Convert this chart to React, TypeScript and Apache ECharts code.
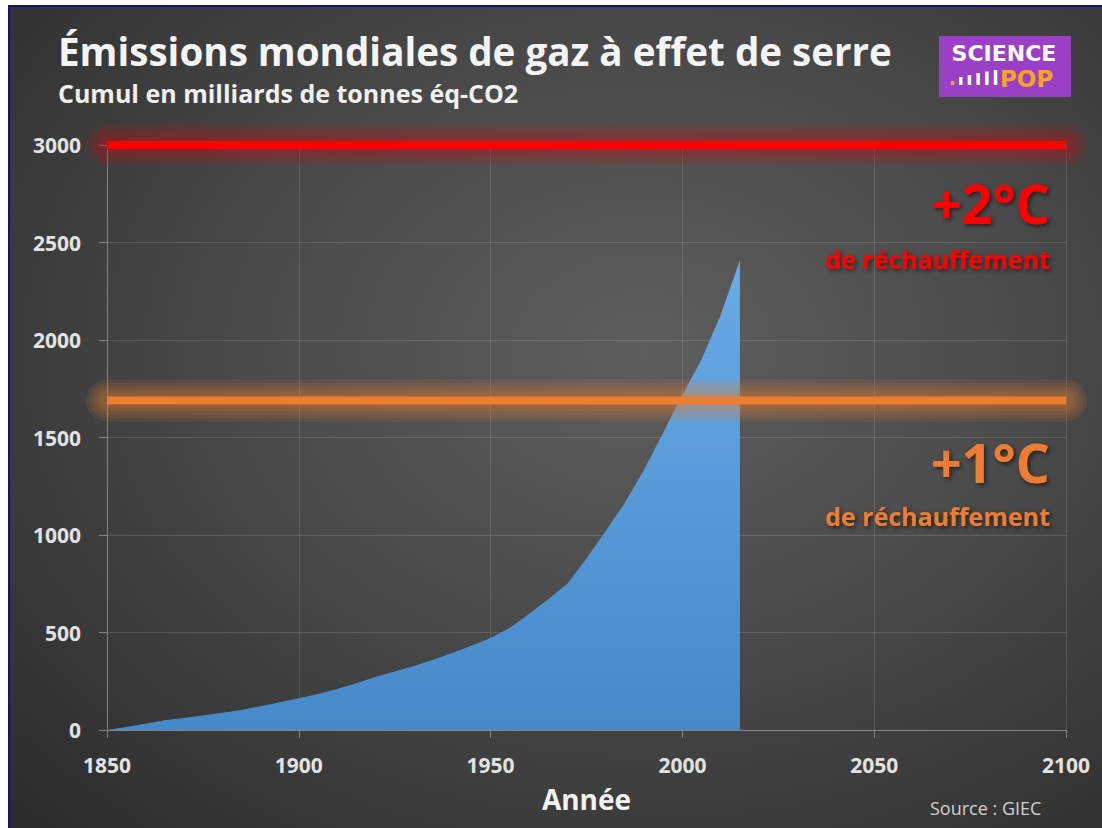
import React, { useEffect, useRef } from "react";
import * as echarts from "echarts";

const years = [1850, 1855, 1860, 1865, 1870, 1875, 1880, 1885, 1890, 1895, 1900, 1905, 1910, 1915, 1920, 1925, 1930, 1935, 1940, 1945, 1950, 1955, 1960, 1965, 1970, 1975, 1980, 1985, 1990, 1995, 2000, 2005, 2010, 2015];
const cumulativeEmissions = [0, 15, 32, 50, 62, 75, 88, 103, 122, 142, 163, 185, 210, 240, 272, 300, 328, 360, 395, 432, 472, 525, 595, 670, 750, 880, 1020, 1165, 1335, 1525, 1720, 1900, 2130, 2410];
const xRange = [1850, 2100];
const warmingLevels = [3000, 1690];
const warmingLabels = ["+2°C", "+1°C"];
const warmingSubLabel = "de réchauffement";
const warmingColors = ["#ff0000", "#ed7d31"];
const warmingGlowRgb = ["200,20,20", "237,125,49"];

const FONT = "'Open Sans', 'DejaVu Sans', sans-serif";
const LOGO_FONT = "'DejaVu Sans', sans-serif";

export default function App() {
  const ref = useRef<HTMLDivElement>(null);
  useEffect(() => {
    const chart = echarts.init(ref.current!, null, { renderer: "svg" });
    const shadow = {
      textShadowColor: "rgba(0,0,0,0.55)",
      textShadowBlur: 4,
      textShadowOffsetX: 2,
      textShadowOffsetY: 2,
    };
    const annotationY = [
      [203, 259],
      [462, 516],
    ];
    const annotations: any[] = [];
    warmingLabels.forEach((lab, i) => {
      annotations.push({
        type: "text",
        x: 1050,
        y: annotationY[i][0],
        style: {
          text: lab,
          fill: warmingColors[i],
          font: `bold 54px ${FONT}`,
          align: "right",
          verticalAlign: "middle",
          ...shadow,
        },
      });
      annotations.push({
        type: "text",
        x: 1050,
        y: annotationY[i][1],
        style: {
          text: warmingSubLabel,
          fill: warmingColors[i],
          font: `bold 25px ${FONT}`,
          align: "right",
          verticalAlign: "middle",
          ...shadow,
        },
      });
    });
    const barTops = [77, 75, 73, 71.5, 70];
    const logoBars = barTops.map((t, i) => ({
      type: "rect",
      shape: { x: 959 + i * 8.7, y: t, width: 3.5, height: 85 - t },
      style: { fill: "#ffffff" },
    }));

    const glowWidths = [42, 35, 28, 21, 15];
    const thresholdSeries: any[] = [];
    warmingLevels.forEach((v, i) => {
      glowWidths.forEach((w) => {
        thresholdSeries.push({
          type: "line",
          data: xRange.map((x) => [x, v]),
          symbol: "none",
          silent: true,
          clip: false,
          z: 4,
          lineStyle: {
            color: `rgba(${warmingGlowRgb[i]},0.11)`,
            width: w,
            cap: "round",
          },
        });
      });
      thresholdSeries.push({
        type: "line",
        data: xRange.map((x) => [x, v]),
        symbol: "none",
        silent: true,
        clip: false,
        z: 5,
        lineStyle: { color: warmingColors[i], width: 8, cap: "butt" },
      });
    });

    chart.setOption({
      animation: false,
      backgroundColor: "transparent",
      grid: { left: 107, right: 36, top: 145, bottom: 98, containLabel: false },
      xAxis: {
        type: "value",
        min: xRange[0],
        max: xRange[1],
        interval: 50,
        axisLine: { show: true, lineStyle: { color: "#858585", width: 1 } },
        axisTick: { show: true, length: 8, lineStyle: { color: "#858585" } },
        axisLabel: {
          color: "#e2e2e2",
          fontWeight: "bold",
          fontSize: 21,
          fontFamily: FONT,
          margin: 24,
          formatter: (v: number) => String(v),
        },
        splitLine: { show: true, lineStyle: { color: "rgba(255,255,255,0.13)" } },
        name: "Année",
        nameLocation: "middle",
        nameGap: 55,
        nameTextStyle: { color: "#f2f2f2", fontWeight: "bold", fontSize: 28, fontFamily: FONT },
      },
      yAxis: {
        type: "value",
        min: 0,
        max: 3000,
        interval: 500,
        axisLine: { show: true, lineStyle: { color: "#858585", width: 1 } },
        axisTick: { show: true, length: 8, lineStyle: { color: "#858585" } },
        axisLabel: {
          color: "#e2e2e2",
          fontWeight: "bold",
          fontSize: 21,
          fontFamily: FONT,
          margin: 26,
          formatter: (v: number) => String(v),
        },
        splitLine: { show: true, lineStyle: { color: "rgba(255,255,255,0.13)" } },
      },
      series: [
        {
          type: "line",
          data: years.map((y, i) => [y, cumulativeEmissions[i]]),
          symbol: "none",
          z: 2,
          lineStyle: { width: 0 },
          areaStyle: {
            opacity: 1,
            color: new echarts.graphic.LinearGradient(0, 0, 0, 1, [
              { offset: 0, color: "#6aabe6" },
              { offset: 1, color: "#4689c9" },
            ]),
          },
        },
        ...thresholdSeries,
      ],
      graphic: [
        {
          type: "text",
          x: 58,
          y: 51,
          style: {
            text: "Émissions mondiales de gaz à effet de serre",
            fill: "#f4f4f4",
            font: `bold 38.6px ${FONT}`,
            verticalAlign: "middle",
          },
        },
        {
          type: "text",
          x: 58,
          y: 93,
          style: {
            text: "Cumul en milliards de tonnes éq-CO2",
            fill: "#f0f0f0",
            font: `bold 25px ${FONT}`,
            verticalAlign: "middle",
          },
        },
        {
          type: "rect",
          shape: { x: 939, y: 36, width: 132, height: 61 },
          style: { fill: "#9b40c6" },
        },
        {
          type: "text",
          x: 1004,
          y: 53,
          style: {
            text: "SCIENCE",
            fill: "#ffffff",
            font: `bold 22px ${LOGO_FONT}`,
            align: "center",
            verticalAlign: "middle",
          },
        },
        {
          type: "rect",
          shape: { x: 951, y: 81, width: 3.5, height: 4 },
          style: { fill: "#f5a623" },
        },
        ...logoBars,
        {
          type: "text",
          x: 1000,
          y: 79,
          style: {
            text: "POP",
            fill: "#f7a521",
            font: `bold 23px ${LOGO_FONT}`,
            align: "left",
            verticalAlign: "middle",
          },
        },
        ...annotations,
        {
          type: "text",
          x: 930,
          y: 808,
          style: {
            text: "Source : GIEC",
            fill: "#d2d2d2",
            font: `18px ${FONT}`,
            verticalAlign: "middle",
          },
        },
      ],
    });
    return () => chart.dispose();
  }, []);

  return (
    <div
      style={{
        position: "fixed",
        left: 0,
        top: 0,
        width: 1102,
        height: 828,
        background: "#ffffff",
        overflow: "hidden",
      }}
    >
      <div
        style={{
          position: "absolute",
          left: 8,
          top: 5,
          right: 0,
          bottom: 0,
          borderLeft: "2px solid #10108a",
          borderTop: "2px solid #10108a",
          background:
            "radial-gradient(ellipse at 58% 42%, #5e5e5e 0%, #4c4c4c 40%, #2b2b2b 100%)",
        }}
      />
      <div ref={ref} style={{ position: "absolute", left: 0, top: 0, width: 1102, height: 828 }} />
    </div>
  );
}
